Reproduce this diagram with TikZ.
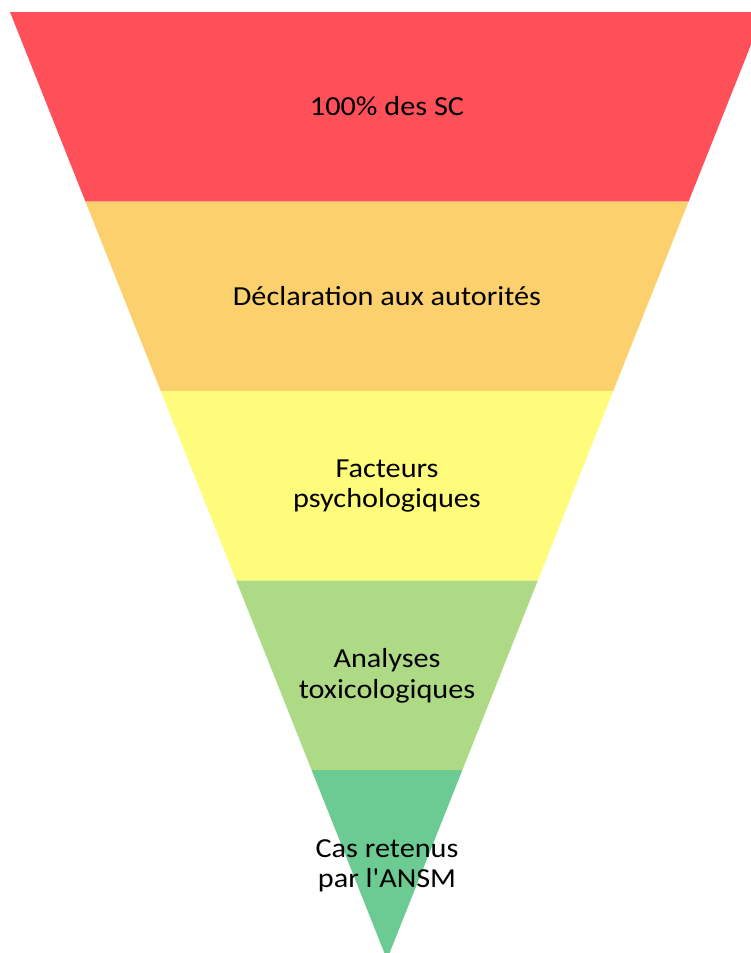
\documentclass[tikz,border=0pt]{standalone}
\usepackage{fontspec}
\setmainfont{Carlito}
\definecolor{cRed}{RGB}{255,80,90}
\definecolor{cOrange}{RGB}{252,208,108}
\definecolor{cYellow}{RGB}{255,252,124}
\definecolor{cLGreen}{RGB}{174,218,134}
\definecolor{cGreen}{RGB}{108,203,146}
\begin{document}
\begin{tikzpicture}[x=1pt,y=-1pt,
  lbl/.style={align=center,font=\fontsize{27.5}{30.5}\selectfont,text=black,inner sep=0pt,xscale=1.1,transform shape}]
\useasboundingbox (0,0) rectangle (751,953);
\clip (0,0) rectangle (751,953);
% triangle: top (10,12)-(764,12), apex (387,959.5); band height 189.5
\def\lx#1{(387-0.39789*(959.5-#1))}
\def\rx#1{(387+0.39789*(959.5-#1))}
\fill[cRed]    ({\lx{12}},12) -- ({\rx{12}},12) -- ({\rx{201.5}},201.5) -- ({\lx{201.5}},201.5) -- cycle;
\fill[cOrange] ({\lx{201.5}},201.5) -- ({\rx{201.5}},201.5) -- ({\rx{391}},391) -- ({\lx{391}},391) -- cycle;
\fill[cYellow] ({\lx{391}},391) -- ({\rx{391}},391) -- ({\rx{580.5}},580.5) -- ({\lx{580.5}},580.5) -- cycle;
\fill[cLGreen] ({\lx{580.5}},580.5) -- ({\rx{580.5}},580.5) -- ({\rx{770}},770) -- ({\lx{770}},770) -- cycle;
\fill[cGreen]  ({\lx{770}},770) -- ({\rx{770}},770) -- (387,959.5) -- cycle;
\node[lbl] (t1) at (387,106) {100\% des SC};
\node[lbl] (t2) at (387,296) {Déclaration aux autorités};
\node[lbl] (t3) at (387,486) {Facteurs\\psychologiques};
\node[lbl] (t4) at (387,676) {Analyses\\toxicologiques};
\node[lbl] (t5) at (387,866) {Cas retenus\\par l\textquotesingle ANSM};
\end{tikzpicture}
\end{document}
